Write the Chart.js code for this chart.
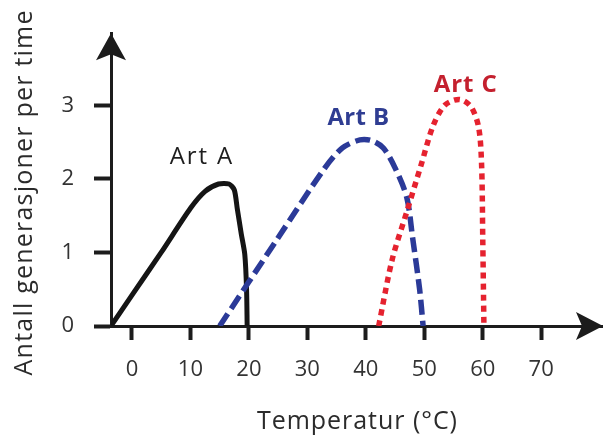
<!DOCTYPE html>
<html>
<head>
<meta charset="utf-8">
<script src="https://cdn.jsdelivr.net/npm/chart.js@4/dist/chart.umd.min.js"></script>
<style>
html, body { margin: 0; padding: 0; background: #fff; }
</style>
</head>
<body>
<canvas id="tempChart" width="603" height="437"></canvas>
<script>
// tick values on the axes
const xTicks = [0, 10, 20, 30, 40, 50, 60, 70];
const yTicks = [0, 1, 2, 3];

// Art A (black, solid)
const tempA = [-3.6, 0, 5, 10, 12.5, 14.8, 16.6, 17.5, 18, 18.7, 19.3, 19.6, 19.7];
const rateA = [0, 0.42, 1.0, 1.6, 1.83, 1.93, 1.93, 1.85, 1.6, 1.25, 0.97, 0.5, 0];

// Art B (blue, dashed)
const tempB = [15, 25, 33, 36, 39, 41, 43, 45, 47, 48, 49.2, 49.8];
const rateB = [0, 1.2, 2.15, 2.42, 2.53, 2.52, 2.42, 2.15, 1.75, 1.2, 0.5, 0];

// Art C (red, dotted)
const tempC = [42.2, 44.5, 47, 49.5, 51.5, 53.5, 56, 58, 59.3, 59.8, 60, 60.2];
const rateC = [0, 0.9, 1.55, 2.2, 2.72, 3.0, 3.08, 2.98, 2.7, 2.2, 1.2, 0];

const xTitle = 'Temperatur (\u00B0C)';
const yTitle = 'Antall generasjoner per time';

const fontFam = '"Open Sans", "Noto Sans", sans-serif';

// build point objects for a scatter line
const toPoints = (xs, ys) => xs.map((v, i) => ({ x: v, y: ys[i] }));

// write text, opened up a little with letter spacing to a wanted width
function spacedText(ctx, txt, x, y, wantWidth) {
    ctx.letterSpacing = '0px';
    const w = ctx.measureText(txt).width;
    const sp = Math.max(0, (wantWidth - w) / txt.length);
    ctx.letterSpacing = sp.toFixed(2) + 'px';
    ctx.fillText(txt, x + sp / 2, y);
    ctx.letterSpacing = '0px';
}

// draw arrows, axis titles and the species labels
const extrasPlugin = {
    id: 'extras',
    afterDraw(chart) {
        const ctx = chart.ctx;
        const a = chart.chartArea;
        const xs = chart.scales.x;
        const ys = chart.scales.y;
        ctx.save();
        ctx.fillStyle = '#1c1c1c';

        // arrow on top of y axis
        const yx = a.left;
        ctx.beginPath();
        ctx.moveTo(yx, a.top);
        ctx.lineTo(yx - 15, a.top + 27);
        ctx.lineTo(yx, a.top + 21);
        ctx.lineTo(yx + 15, a.top + 27);
        ctx.closePath();
        ctx.fill();

        // arrow at the end of x axis
        const xy = a.bottom;
        ctx.beginPath();
        ctx.moveTo(a.right + 1, xy);
        ctx.lineTo(a.right - 26, xy - 14);
        ctx.lineTo(a.right - 20, xy);
        ctx.lineTo(a.right - 26, xy + 14);
        ctx.closePath();
        ctx.fill();

        // axis titles
        ctx.fillStyle = '#2b2b2b';
        ctx.textAlign = 'center';
        ctx.textBaseline = 'middle';
        ctx.font = '25px ' + fontFam;
        spacedText(ctx, xTitle, 357, 422, 201);

        ctx.save();
        ctx.translate(25, 193);
        ctx.rotate(-Math.PI / 2);
        spacedText(ctx, yTitle, 0, 0, 366);
        ctx.restore();

        // species labels
        ctx.font = '24px ' + fontFam;
        ctx.fillStyle = '#1e1e1e';
        spacedText(ctx, 'Art A', xs.getPixelForValue(11.8), ys.getPixelForValue(2.3), 64);
        ctx.font = 'bold 24px ' + fontFam;
        ctx.fillStyle = '#2f3d92';
        spacedText(ctx, 'Art B', xs.getPixelForValue(38.7), ys.getPixelForValue(2.83), 62);
        ctx.fillStyle = '#c4202e';
        spacedText(ctx, 'Art C', xs.getPixelForValue(57), ys.getPixelForValue(3.28), 64);

        ctx.restore();
    }
};

new Chart(document.getElementById('tempChart'), {
    type: 'scatter',
    data: {
        datasets: [{
            label: 'Art A',
            data: toPoints(tempA, rateA),
            showLine: true,
            borderColor: '#151515',
            borderWidth: 5,
            pointRadius: 0,
            tension: 0.25,
            order: 3
        }, {
            label: 'Art B',
            data: toPoints(tempB, rateB),
            showLine: true,
            borderColor: '#2b3a98',
            borderWidth: 5.5,
            borderDash: [15, 6],
            pointRadius: 0,
            tension: 0.3,
            order: 2
        }, {
            label: 'Art C',
            data: toPoints(tempC, rateC),
            showLine: true,
            borderColor: '#e5222f',
            borderWidth: 5.5,
            borderDash: [6, 5],
            pointRadius: 0,
            tension: 0.3,
            order: 1
        }]
    },
    options: {
        responsive: false,
        animation: false,
        devicePixelRatio: 1,
        layout: { padding: { top: 17, right: 1, left: 0, bottom: 0 } },
        plugins: {
            legend: { display: false },
            tooltip: { enabled: false }
        },
        scales: {
            x: {
                type: 'linear',
                min: -3.59,
                max: 80.4,
                afterBuildTicks: s => { s.ticks = xTicks.map(v => ({ value: v })); },
                afterFit: s => { s.height = 111; },
                ticks: {
                    color: '#333',
                    font: { family: fontFam, size: 22 },
                    padding: 17,
                    maxRotation: 0
                },
                grid: {
                    drawOnChartArea: false,
                    drawTicks: true,
                    tickLength: 14,
                    tickWidth: 4,
                    tickColor: '#1c1c1c'
                },
                border: { display: true, color: '#1c1c1c', width: 3 }
            },
            y: {
                min: 0,
                max: 3.98,
                afterBuildTicks: s => { s.ticks = yTicks.map(v => ({ value: v })); },
                afterFit: s => { s.width = 111; },
                ticks: {
                    color: '#333',
                    font: { family: fontFam, size: 22 },
                    padding: 20
                },
                grid: {
                    drawOnChartArea: false,
                    drawTicks: true,
                    tickLength: 17,
                    tickWidth: 4,
                    tickColor: '#1c1c1c'
                },
                border: { display: true, color: '#1c1c1c', width: 3 }
            }
        }
    },
    plugins: [extrasPlugin]
});
</script>
</body>
</html>
